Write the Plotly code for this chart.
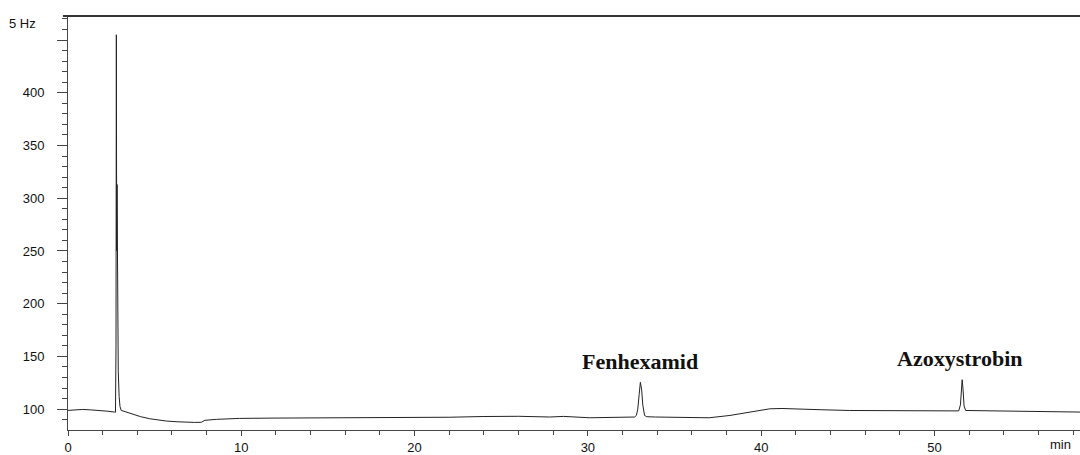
import plotly.graph_objects as go

# retention time (min) and detector signal
time_min = [0.0, 0.4, 0.85, 1.3, 1.81, 2.3, 2.69, 2.74, 2.77, 2.79, 2.81, 2.83, 2.86, 2.9, 2.95, 3.0, 3.07,
            3.4, 3.75, 4.2, 4.71, 5.2, 5.67, 6.3, 6.83, 7.3, 7.69, 7.9, 8.56, 9.9,
            12.0, 15.0, 18.0, 20.0, 22.0, 24.0, 26.0, 27.8, 28.6, 30.1, 31.5, 32.7,
            32.8, 32.88, 32.96, 33.03, 33.1, 33.17, 33.27, 33.4, 33.9, 35.0, 35.9, 37.0,
            38.2, 39.3, 40.5, 41.2, 42.2, 43.5, 45.1, 47.0, 49.0, 51.25,
            51.4, 51.5, 51.56, 51.6, 51.65, 51.71, 51.8, 52.5, 54.0, 56.0, 58.4]
signal = [98.8, 99.2, 99.7, 99.3, 98.8, 98.0, 97.2, 97.0, 160.0, 455.0, 250.0, 313.0, 165.0, 136.0, 112.0, 102.5, 98.8,
          97.0, 95.0, 92.8, 90.9, 89.6, 88.7, 88.0, 87.5, 87.4, 87.5, 89.4, 90.3, 91.2,
          91.5, 91.8, 92.0, 91.8, 92.3, 93.0, 93.2, 92.5, 93.1, 91.8, 92.0, 92.5,
          94.0, 100.0, 114.0, 125.4, 119.0, 104.0, 94.0, 92.8, 92.5, 92.2, 91.8, 91.8,
          94.0, 97.2, 100.3, 100.6, 100.3, 99.4, 98.7, 98.5, 98.4, 98.1,
          98.3, 104.0, 120.0, 127.9, 119.0, 103.0, 98.7, 98.6, 98.5, 97.8, 97.2]

peak_names = ["Fenhexamid", "Azoxystrobin"]
peak_label_x = [33.0, 51.5]
peak_label_y = [131.5, 134.0]

y_tickvals = [100, 150, 200, 250, 300, 350, 400, 450]
y_ticktext = ["100", "150", "200", "250", "300", "350", "400", ""]
x_tickvals = [0, 10, 20, 30, 40, 50]

fig = go.Figure()
fig.add_trace(go.Scatter(x=time_min, y=signal, mode="lines",
                         line=dict(color="#222222", width=1), showlegend=False,
                         hoverinfo="skip"))

for name, px, py in zip(peak_names, peak_label_x, peak_label_y):
    fig.add_annotation(x=px, y=py, text="<b>" + name + "</b>", showarrow=False,
                       xanchor="center", yanchor="bottom",
                       font=dict(family="Liberation Serif", size=22, color="#111111"))

fig.add_annotation(xref="paper", yref="paper", x=-0.0297, y=1.0, yshift=2, text="5 Hz",
                   showarrow=False, xanchor="right", yanchor="top",
                   font=dict(family="Liberation Sans", size=13, color="#111111"))
fig.add_annotation(x=57.3, xref="x", yref="paper", y=0, yshift=-5, text="min",
                   showarrow=False, xanchor="center", yanchor="top",
                   font=dict(family="Liberation Sans", size=13, color="#111111"))

fig.add_shape(type="line", xref="paper", yref="paper", x0=-0.005, x1=1.0, y0=1.0, y1=1.0,
              line=dict(color="#333333", width=2))

fig.update_xaxes(range=[0, 58.4], tickvals=x_tickvals, ticks="outside", ticklen=5,
                 tickcolor="#444444", showline=True, linecolor="#444444", linewidth=1,
                 showgrid=False, zeroline=False,
                 tickfont=dict(family="Liberation Sans", size=13, color="#111111"),
                 minor=dict(dtick=2, tick0=0, ticks="outside", ticklen=4, tickcolor="#444444"))
fig.update_yaxes(range=[80.2, 472.8], tickvals=y_tickvals, ticktext=y_ticktext,
                 ticks="outside", ticklen=10, tickcolor="#444444",
                 showline=True, linecolor="#444444", linewidth=1,
                 showgrid=False, zeroline=False, ticklabelstandoff=10,
                 tickfont=dict(family="Liberation Sans", size=13, color="#111111"),
                 minor=dict(dtick=10, tick0=0, ticks="outside", ticklen=5, tickcolor="#444444"))

fig.update_layout(width=1080, height=455, margin=dict(l=68, r=0, t=16, b=22),
                  plot_bgcolor="white", paper_bgcolor="white")

fig.write_html("out.html", config={"displayModeBar": False},
               post_script="document.body.style.margin='0';document.body.style.overflow='hidden';")
